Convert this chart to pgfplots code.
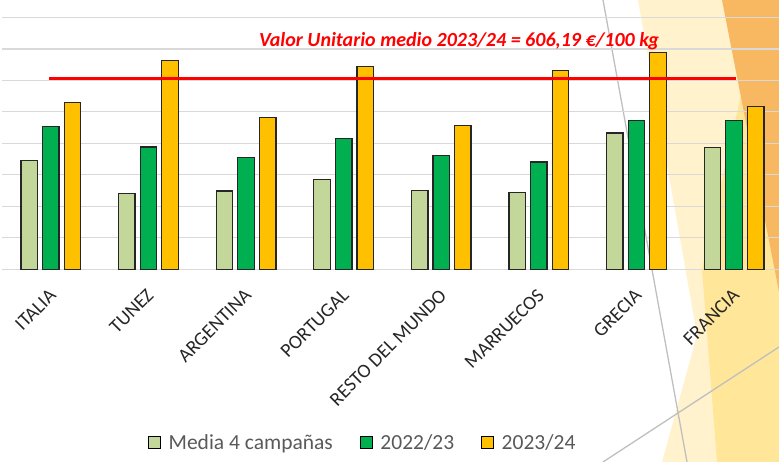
\documentclass[border=0pt]{standalone}
\usepackage{fontspec}
\setmainfont{Carlito}
\usepackage{pgfplots}
\pgfplotsset{compat=1.18}

\definecolor{media}{HTML}{C4D79B}
\definecolor{c2223}{HTML}{00B050}
\definecolor{c2324}{HTML}{FFC000}
\definecolor{gridc}{HTML}{D9D9D9}
\definecolor{cream}{HTML}{FFF2CC}
\definecolor{ylw}{HTML}{FFE699}
\definecolor{org}{HTML}{F8B862}
\definecolor{linec}{HTML}{BFBFBF}
\definecolor{legtext}{HTML}{595959}

\begin{document}
\begin{tikzpicture}[x=1pt,y=1pt]
\useasboundingbox (0,0) rectangle (779,462);
\clip (0,0) rectangle (779,462);
% slide decoration on the right
\fill[cream] (638,462) -- (779,462) -- (779,0) -- (662,0) -- (697,127) -- cycle;
\fill[ylw] (741,367) -- (702,193) -- (717,0) -- (779,0) -- (779,170) -- cycle;
\fill[org] (722,462) -- (779,462) -- (779,170) -- cycle;
\draw[linec, line width=1.3pt] (603,462) -- (687,0);
\draw[linec, line width=1.3pt] (603,0) -- (779,115);

\begin{axis}[
    at={(2pt,192.7pt)}, anchor=south west,
    scale only axis, width=780.8pt, height=252pt,
    xmin=-0.5, xmax=7.5, ymin=0, ymax=800,
    ybar=5.1pt, bar width=16.5pt,
    xtick={0,...,7},
    xticklabels={ITALIA,TUNEZ,ARGENTINA,PORTUGAL,RESTO DEL MUNDO,MARRUECOS,GRECIA,FRANCIA},
    ytick={0,100,...,800}, yticklabels={},
    ymajorgrids, grid style={gridc, line width=1.4pt},
    axis line style={draw=none}, major tick length=0pt,
    xticklabel style={font=\fontsize{19.5}{21}\selectfont, text=black!85, inner sep=0pt,
        xshift=2pt, yshift=-23pt, rotate=45, anchor=east},
    legend style={at={(0.462,-0.688)}, anchor=center, draw=none, fill=none,
        legend columns=3, font=\fontsize{21.5}{23}\selectfont, text=legtext,
        /tikz/every even column/.append style={column sep=25pt}},
    legend image code/.code={
        \draw[#1, draw=black, line width=1.2pt] (0pt,-6pt) rectangle (12pt,6pt);
        \path[draw=none, fill=none] (0pt,0pt) -- (18pt,0pt);},
]
\addplot[fill=media, draw=black!85, line width=1.3pt] coordinates {
    (0,346) (1,241) (2,249) (3,286) (4,251) (5,243) (6,433) (7,386)};
\addlegendentry{Media 4 campañas}
\addplot[fill=c2223, draw=black!85, line width=1.3pt] coordinates {
    (0,454) (1,388) (2,354) (3,415) (4,362) (5,341) (6,473) (7,473)};
\addlegendentry{2022/23}
\addplot[fill=c2324, draw=black!85, line width=1.3pt] coordinates {
    (0,530) (1,662) (2,483) (3,643) (4,456) (5,631) (6,689) (7,517)};
\addlegendentry{2023/24}
% valor unitario medio
\addplot[sharp plot, red, line width=3.5pt, forget plot] coordinates {
    (-0.02,606.19) (7.02,606.19)};
\end{axis}

\node[anchor=base, text=red, font=\fontsize{20}{22}\selectfont\bfseries\itshape]
    at (459,415) {Valor Unitario medio 2023/24 = 606,19 €/100 kg};
\end{tikzpicture}
\end{document}
